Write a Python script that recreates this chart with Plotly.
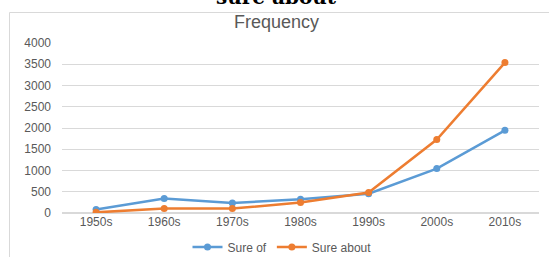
import plotly.graph_objects as go

decades = ["1950s", "1960s", "1970s", "1980s", "1990s", "2000s", "2010s"]
sure_of = [80, 340, 235, 322, 455, 1045, 1946]
sure_about = [15, 105, 103, 245, 480, 1727, 3539]
y_ticks = [0, 500, 1000, 1500, 2000, 2500, 3000, 3500, 4000]

W, H = 549, 257
L, R, T, B = 62, 10, 43, 44
pw, ph = W - L - R, H - T - B

fig = go.Figure()
fig.add_trace(go.Scatter(x=decades, y=sure_of, name="Sure of", mode="lines+markers",
                         line=dict(color="#5B9BD5", width=2.5), marker=dict(size=7, color="#5B9BD5")))
fig.add_trace(go.Scatter(x=decades, y=sure_about, name="Sure about", mode="lines+markers",
                         line=dict(color="#ED7D31", width=2.5), marker=dict(size=7, color="#ED7D31")))

def px_x(x):
    return (x - L) / pw

def px_y(y):
    return (H - B - y) / ph

fig.update_layout(
    width=W, height=H,
    margin=dict(l=L, r=R, t=T, b=B, autoexpand=False),
    paper_bgcolor="white", plot_bgcolor="white",
    font=dict(family="Liberation Sans, Arial, sans-serif", color="#595959", size=12),
    showlegend=True,
    legend=dict(orientation="h", xref="container", yref="container",
                x=282 / W, xanchor="center", y=1 - 247 / H, yanchor="middle",
                font=dict(size=12, color="#595959"), itemwidth=30, tracegroupgap=0),
    xaxis=dict(type="category", showgrid=False, showline=False, zeroline=False, ticks="",
               tickfont=dict(size=12, color="#595959"), range=[-0.5, 6.5], automargin=False),
    yaxis=dict(range=[0, 4000], tickvals=y_ticks, showgrid=True, gridcolor="#D9D9D9", gridwidth=1,
               zeroline=True, zerolinecolor="#D9D9D9", showline=False, ticks="",
               tickfont=dict(size=12, color="#595959"), ticklabelstandoff=10, automargin=False),
    shapes=[dict(type="rect", xref="paper", yref="paper",
                 x0=px_x(9.5), x1=px_x(560), y0=px_y(270), y1=px_y(12.5),
                 line=dict(color="#D9D9D9", width=1), fillcolor="rgba(0,0,0,0)", layer="below")],
    annotations=[
        dict(text="Frequency", xref="paper", yref="paper", x=px_x(276), y=px_y(22),
             xanchor="center", yanchor="middle", showarrow=False,
             font=dict(size=18, color="#595959", family="Liberation Sans, Arial, sans-serif")),
        dict(text="<b>sure about</b>", xref="paper", yref="paper", x=px_x(276), y=px_y(11),
             xanchor="center", yanchor="bottom", showarrow=False,
             font=dict(size=20, color="black", family="DejaVu Serif, serif")),
    ],
)

fig.write_html("out.html", config={"displayModeBar": False},
               post_script="document.body.style.margin='0';document.body.style.overflow='hidden';")
